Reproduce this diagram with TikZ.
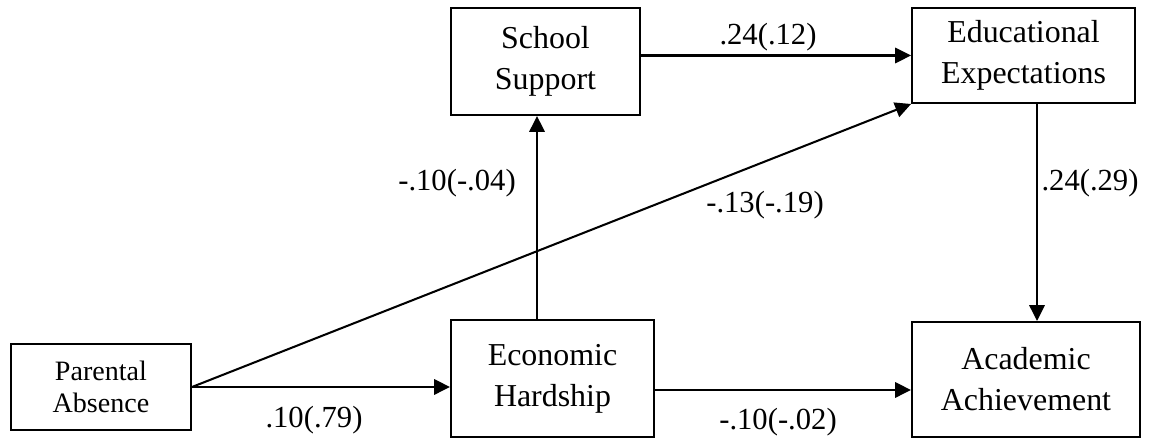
\documentclass[tikz,border=0pt]{standalone}
\usepackage{fontspec}
\setmainfont{Liberation Serif}
\usetikzlibrary{arrows.meta}

\begin{document}
\begin{tikzpicture}[x=39.17pt, y=39.17pt, line width=0.8pt,
  box/.style={draw, align=center, inner sep=0pt, font=\fontsize{12.5}{16}\selectfont},
  lbl/.style={inner sep=0pt, font=\fontsize{12}{14}\selectfont},
  arr/.style={-{Triangle[length=6.2pt, width=6pt]}}]
\useasboundingbox (0,0) rectangle (11.54,4.41);
% --- Variables ---
\node[box, minimum width=70.5pt, minimum height=33.7pt, font=\fontsize{11}{12.6}\selectfont] (pa) at (1.01,0.54) {Parental\\Absence};
\node[box, minimum width=74pt, minimum height=41.9pt] (ss) at (5.455,3.795) {School\\Support};
\node[box, minimum width=87.3pt, minimum height=37.2pt] (ee) at (10.235,3.855) {Educational\\Expectations};
\node[box, minimum width=79.5pt, minimum height=45.8pt] (eh) at (5.525,0.625) {Economic\\Hardship};
\node[box, minimum width=89.3pt, minimum height=45pt] (aa) at (10.26,0.615) {Academic\\Achievement};
%
% --- Helper points ---
\coordinate (low) at (0,0.51);
\coordinate (midx) at (5.37,0);
\coordinate (rightx) at (10.37,0);
%
% --- Paths ---
\draw[arr] (pa.east) -- (pa.east -| eh.west);
\draw[arr] (eh.east |- low) -- (aa.west |- low);
\draw[arr] (eh.north -| midx) -- (ss.south -| midx);
\draw[arr] (ss.east |- ee.west) -- (ee.west);
\draw[arr] (ee.south -| rightx) -- (aa.north -| rightx);
\draw[arr] (pa.east) -- (ee.south west);
%
% --- Coefficients ---
\node[lbl] (l1) at (3.14,0.21) {.10(.79)};
\node[lbl] (l2) at (7.78,0.19) {-.10(-.02)};
\node[lbl] (l3) at (7.68,4.04) {.24(.12)};
\node[lbl] (l4) at (4.57,2.58) {-.10(-.04)};
\node[lbl] (l5) at (7.65,2.36) {-.13(-.19)};
\node[lbl] (l6) at (10.90,2.58) {.24(.29)};
%
\end{tikzpicture}
\end{document}
